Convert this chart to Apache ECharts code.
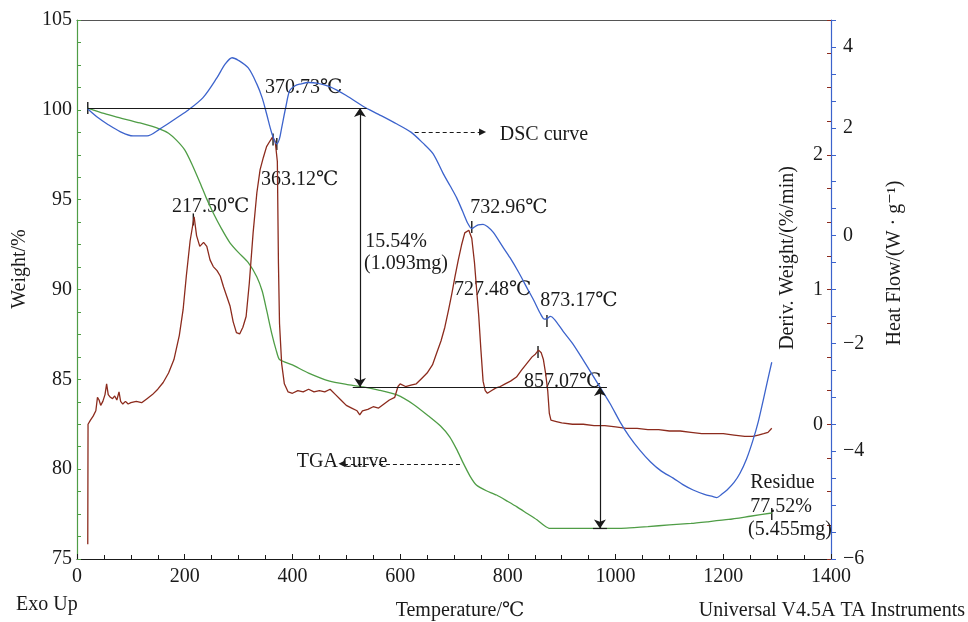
<!DOCTYPE html>
<html>
<head>
<meta charset="utf-8">
<script src="https://cdn.jsdelivr.net/npm/echarts@6/dist/echarts.min.js"></script>
<style>
  html, body { margin: 0; padding: 0; background: #fff; }
  #chart { width: 968px; height: 622px; }
</style>
</head>
<body>
<div id="chart"></div>
<script>
// TGA 曲线: [温度 ℃, 失重 %]
const tgaData = [
  [20, 100.1], [50, 99.8], [74, 99.6], [117, 99.27], [154, 98.93], [170, 98.7], [185, 98.3],
  [200, 97.77], [213, 97.0], [229, 95.9], [240, 95.1], [253, 94.26], [268, 93.4], [284, 92.6],
  [300, 92.05], [318, 91.5], [334, 90.7], [344, 89.9], [352, 88.86], [362, 87.5], [370, 86.6],
  [376, 86.1], [400, 85.8], [430, 85.35], [469, 84.9], [500, 84.72], [531, 84.58], [560, 84.4],
  [594, 84.13], [625, 83.6], [655, 82.9], [675, 82.4], [692, 81.8], [705, 81.1], [717, 80.35],
  [730, 79.6], [742, 79.1], [760, 78.8], [779, 78.56], [800, 78.2], [817, 77.9], [835, 77.55],
  [854, 77.18], [868, 76.85], [878, 76.7], [920, 76.7], [971, 76.7], [1020, 76.72], [1060, 76.8],
  [1100, 76.9], [1140, 76.98], [1170, 77.07], [1210, 77.2], [1250, 77.38], [1290, 77.56]
];

// DTG 曲线: [温度 ℃, Deriv. Weight %/min]
const dtgData = [
  [20, -0.89], [20.5, 0.0], [25, 0.03], [30, 0.06], [35, 0.1], [38, 0.2], [41, 0.18], [44, 0.14],
  [48, 0.17], [52, 0.22], [55, 0.3], [58, 0.22], [62, 0.2], [66, 0.19], [70, 0.21], [74, 0.18],
  [78, 0.24], [81, 0.17], [85, 0.15], [90, 0.17], [95, 0.15], [100, 0.16], [110, 0.17], [120, 0.16],
  [130, 0.19], [140, 0.22], [150, 0.26], [160, 0.31], [170, 0.38], [180, 0.48], [190, 0.66],
  [197, 0.85], [203, 1.1], [210, 1.36], [217.5, 1.54], [222, 1.4], [228, 1.32], [235, 1.35],
  [241, 1.32], [247, 1.22], [253, 1.17], [260, 1.14], [266, 1.1], [272, 1.02], [278, 0.95],
  [284, 0.88], [290, 0.76], [296, 0.68], [302, 0.67], [308, 0.72], [314, 0.8], [320, 1.05],
  [327, 1.42], [334, 1.72], [340, 1.89], [346, 1.98], [352, 2.06], [358, 2.1], [363, 2.13],
  [368, 2.1], [372, 1.95], [374, 1.2], [376, 0.75], [380, 0.45], [385, 0.3], [392, 0.24],
  [400, 0.23], [410, 0.25], [420, 0.24], [430, 0.26], [440, 0.24], [450, 0.25], [460, 0.24],
  [470, 0.26], [480, 0.22], [490, 0.18], [500, 0.14], [510, 0.12], [520, 0.1], [525, 0.07],
  [530, 0.1], [540, 0.11], [550, 0.13], [560, 0.12], [570, 0.15], [580, 0.18], [590, 0.2],
  [596, 0.28], [600, 0.3], [610, 0.28], [620, 0.29], [630, 0.3], [640, 0.34], [650, 0.38],
  [660, 0.44], [668, 0.53], [676, 0.62], [683, 0.72], [690, 0.85], [696, 0.97], [702, 1.1],
  [708, 1.22], [714, 1.33], [720, 1.42], [727.5, 1.44], [733, 1.38], [738, 1.2], [742, 1.0],
  [746, 0.8], [750, 0.55], [754, 0.32], [758, 0.25], [762, 0.23], [770, 0.25], [778, 0.27],
  [786, 0.28], [795, 0.3], [805, 0.32], [816, 0.35], [825, 0.4], [835, 0.45], [845, 0.5],
  [851, 0.52], [857, 0.55], [862, 0.53], [866, 0.48], [870, 0.38], [874, 0.25], [877, 0.08],
  [880, 0.03], [890, 0.02], [900, 0.01], [920, 0.0], [940, 0.0], [960, -0.01], [980, -0.01],
  [1000, -0.02], [1020, -0.03], [1040, -0.03], [1060, -0.04], [1080, -0.04], [1100, -0.05],
  [1120, -0.05], [1140, -0.06], [1160, -0.07], [1180, -0.07], [1200, -0.07], [1220, -0.08],
  [1240, -0.09], [1255, -0.09], [1265, -0.08], [1275, -0.07], [1283, -0.06], [1290, -0.03]
];

// DSC 曲线: [温度 ℃, Heat Flow W/g]
const dscData = [
  [20, 2.35], [40, 2.18], [56, 2.07], [80, 1.93], [104, 1.85], [130, 1.85], [154, 1.98],
  [180, 2.15], [204, 2.31], [234, 2.56], [260, 2.93], [275, 3.18], [288, 3.3], [300, 3.25],
  [318, 3.11], [334, 2.81], [344, 2.55], [352, 2.26], [362, 1.89], [370.7, 1.7], [376, 1.8],
  [380, 2.0], [388, 2.4], [395, 2.69], [405, 2.78], [414, 2.81], [430, 2.84], [445, 2.83],
  [470, 2.76], [500, 2.6], [531, 2.4], [560, 2.25], [594, 2.07], [620, 1.92], [642, 1.72],
  [661, 1.52], [680, 1.15], [693, 0.92], [705, 0.7], [716, 0.45], [726, 0.22], [733, 0.13],
  [738, 0.16], [745, 0.2], [754, 0.21], [763, 0.16], [773, 0.06], [790, -0.2], [804, -0.41],
  [820, -0.68], [835, -0.96], [848, -1.2], [860, -1.44], [868, -1.55], [873, -1.54], [879, -1.5],
  [886, -1.55], [903, -1.78], [920, -2.0], [940, -2.31], [955, -2.55], [971, -2.81], [990, -3.12],
  [1008, -3.45], [1025, -3.72], [1045, -3.98], [1065, -4.2], [1085, -4.37], [1107, -4.5],
  [1125, -4.62], [1144, -4.72], [1165, -4.8], [1180, -4.84], [1188, -4.86], [1197, -4.8],
  [1207, -4.72], [1220, -4.58], [1231, -4.41], [1243, -4.15], [1255, -3.8], [1265, -3.45],
  [1274, -3.06], [1282, -2.7], [1290, -2.35]
];

// 刻度标签
const derivTickLabels = [0, 1, 2];
const heatTickLabels = { '-6': '−6', '-4': '−4', '-2': '−2', '0': '0', '2': '2', '3.5': '4' };

// 图中注释文字 (坐标按 温度 / Weight 轴)
const noteLabels = [
  { value: [349, 101.22], name: '370.73℃' },
  { value: [341.6, 96.1], name: '363.12℃' },
  { value: [176.4, 94.6], name: '217.50℃' },
  { value: [535, 92.65], name: '15.54%' },
  { value: [533, 91.45], name: '(1.093mg)' },
  { value: [785, 98.6], name: 'DSC curve' },
  { value: [730, 94.54], name: '732.96℃' },
  { value: [700, 89.97], name: '727.48℃' },
  { value: [860, 89.36], name: '873.17℃' },
  { value: [830, 84.86], name: '857.07℃' },
  { value: [408, 80.4], name: 'TGA curve' },
  { value: [1250, 79.23], name: 'Residue' },
  { value: [1250, 77.9], name: '77.52%' },
  { value: [1246, 76.62], name: '(5.455mg)' }
];

// 峰值处的小竖线标记
const peakMarks = [
  [20, 100.1], [216, 93.9], [364, 98.35], [371, 98.1], [733, 93.48],
  [872.6, 88.25], [856, 86.52], [1290, 77.5]
];

// 失重标注线
const stepTop = 100.1, stepMid = 84.58, stepBottom = 76.7;
const measureLines = [
  [{ coord: [20, stepTop], symbol: 'none' }, { coord: [538, stepTop], symbol: 'none' }],
  [{ coord: [525.4, stepTop], symbol: 'arrow' }, { coord: [525.4, stepMid], symbol: 'arrow' }],
  [{ coord: [512, stepMid], symbol: 'none' }, { coord: [984, stepMid], symbol: 'none' }],
  [{ coord: [971, stepMid], symbol: 'arrow' }, { coord: [971, stepBottom], symbol: 'arrow' }],
  [{ coord: [958, stepBottom], symbol: 'none' }, { coord: [984, stepBottom], symbol: 'none' }]
];
const pointerLines = [
  [{ coord: [627, 98.77], symbol: 'none' }, { coord: [753, 98.77], symbol: 'triangle' }],
  [{ coord: [711, 80.3], symbol: 'none' }, { coord: [492, 80.3], symbol: 'triangle' }]
];

const serif = '"Liberation Serif", "DejaVu Serif", serif';
const ink = '#1a1a1a';
const green = '#4f9d46';
const blue = '#3c63cc';
const brown = '#8c2b1d';

const chart = echarts.init(document.getElementById('chart'));

chart.setOption({
  backgroundColor: '#fff',
  animation: false,
  textStyle: { fontFamily: serif },
  grid: { left: 77, right: 137, top: 20, bottom: 63 },
  xAxis: [
    {
      type: 'value', min: 0, max: 1400, interval: 200,
      axisLine: { onZero: false, lineStyle: { color: ink, width: 1.2 } },
      axisTick: { inside: true, length: 5, lineStyle: { color: ink } },
      minorTick: { show: true, splitNumber: 4, length: 4, lineStyle: { color: ink } },
      axisLabel: { color: ink, fontSize: 20, margin: 8, fontFamily: serif, formatter: v => String(v) },
      splitLine: { show: false }
    },
    {
      type: 'value', position: 'top', min: 0, max: 1400,
      axisLine: { onZero: false, lineStyle: { color: '#555', width: 1.2 } },
      axisTick: { show: false }, axisLabel: { show: false }, splitLine: { show: false }
    }
  ],
  yAxis: [
    {
      type: 'value', position: 'left', min: 75, max: 105, interval: 5,
      axisLine: { show: true, onZero: false, lineStyle: { color: green, width: 1.2 } },
      axisTick: { inside: true, length: 4, lineStyle: { color: green } },
      minorTick: { show: true, splitNumber: 4, length: 4, lineStyle: { color: green } },
      axisLabel: { color: ink, fontSize: 20, margin: 5, fontFamily: serif },
      splitLine: { show: false }
    },
    {
      type: 'value', position: 'right', min: -1, max: 3, interval: 0.25,
      axisLine: { show: false, onZero: false },
      axisTick: { inside: true, length: 4, lineStyle: { color: brown } },
      axisLabel: {
        inside: true, color: ink, fontSize: 20, margin: 8, fontFamily: serif,
        showMinLabel: true, showMaxLabel: true,
        formatter: v => derivTickLabels.some(t => Math.abs(t - v) < 1e-6) ? String(Math.round(v)) : ''
      },
      splitLine: { show: false }
    },
    {
      type: 'value', position: 'right', min: -6, max: 4, interval: 0.5,
      axisLine: { show: true, onZero: false, lineStyle: { color: blue, width: 1.2 } },
      axisTick: { inside: false, length: 5, lineStyle: { color: blue } },
      axisLabel: {
        color: ink, fontSize: 20, margin: 12, fontFamily: serif,
        showMinLabel: true, showMaxLabel: true,
        formatter: v => heatTickLabels[String(Math.round(v * 10) / 10)] || ''
      },
      splitLine: { show: false }
    }
  ],
  graphic: [
    { type: 'text', x: 20, y: 269, rotation: Math.PI / 2,
      style: { text: 'Weight/%', font: '20px ' + serif, fill: ink, align: 'center', verticalAlign: 'middle' } },
    { type: 'text', x: 788, y: 258, rotation: Math.PI / 2,
      style: { text: 'Deriv. Weight/(%/min)', font: '20px ' + serif, fill: ink, align: 'center', verticalAlign: 'middle' } },
    { type: 'text', x: 895, y: 263, rotation: Math.PI / 2,
      style: { text: 'Heat Flow/(W · g⁻¹)', font: '20px ' + serif, fill: ink, align: 'center', verticalAlign: 'middle' } },
    { type: 'text', x: 460, y: 611,
      style: { text: 'Temperature/℃', font: '20px ' + serif, fill: ink, align: 'center', verticalAlign: 'middle' } },
    { type: 'text', x: 16, y: 605,
      style: { text: 'Exo Up', font: '20px ' + serif, fill: ink, align: 'left', verticalAlign: 'middle' } },
    { type: 'text', x: 965, y: 611,
      style: { text: 'Universal V4.5A TA Instruments', font: '20px ' + serif, fill: ink, align: 'right', verticalAlign: 'middle' } }
  ],
  series: [
    {
      name: 'TGA', type: 'line', xAxisIndex: 0, yAxisIndex: 0, data: tgaData,
      showSymbol: false, smooth: 0.2, lineStyle: { color: green, width: 1.3 },
      markLine: {
        silent: true, symbolSize: 9, label: { show: false },
        lineStyle: { color: ink, width: 1.2, type: 'solid' },
        data: measureLines
      }
    },
    {
      name: 'DTG', type: 'line', xAxisIndex: 0, yAxisIndex: 1, data: dtgData,
      showSymbol: false, lineStyle: { color: brown, width: 1.3 }
    },
    {
      name: 'DSC', type: 'line', xAxisIndex: 0, yAxisIndex: 2, data: dscData,
      showSymbol: false, smooth: 0.3, lineStyle: { color: blue, width: 1.3 }
    },
    {
      name: 'pointers', type: 'line', xAxisIndex: 0, yAxisIndex: 0, data: [],
      markLine: {
        silent: true, symbolSize: 7, label: { show: false },
        lineStyle: { color: ink, width: 1.2, type: [4, 3] },
        data: pointerLines
      }
    },
    {
      name: 'marks', type: 'scatter', xAxisIndex: 0, yAxisIndex: 0, data: peakMarks,
      symbol: 'rect', symbolSize: [1.4, 12], itemStyle: { color: ink, opacity: 1 }, silent: true
    },
    {
      name: 'notes', type: 'scatter', xAxisIndex: 0, yAxisIndex: 0, data: noteLabels,
      symbolSize: 0, silent: true, itemStyle: { opacity: 1 },
      label: {
        show: true, position: 'right', distance: 0, formatter: p => p.name,
        color: ink, opacity: 1, fontSize: 20, fontFamily: serif
      }
    }
  ]
});
</script>
</body>
</html>
